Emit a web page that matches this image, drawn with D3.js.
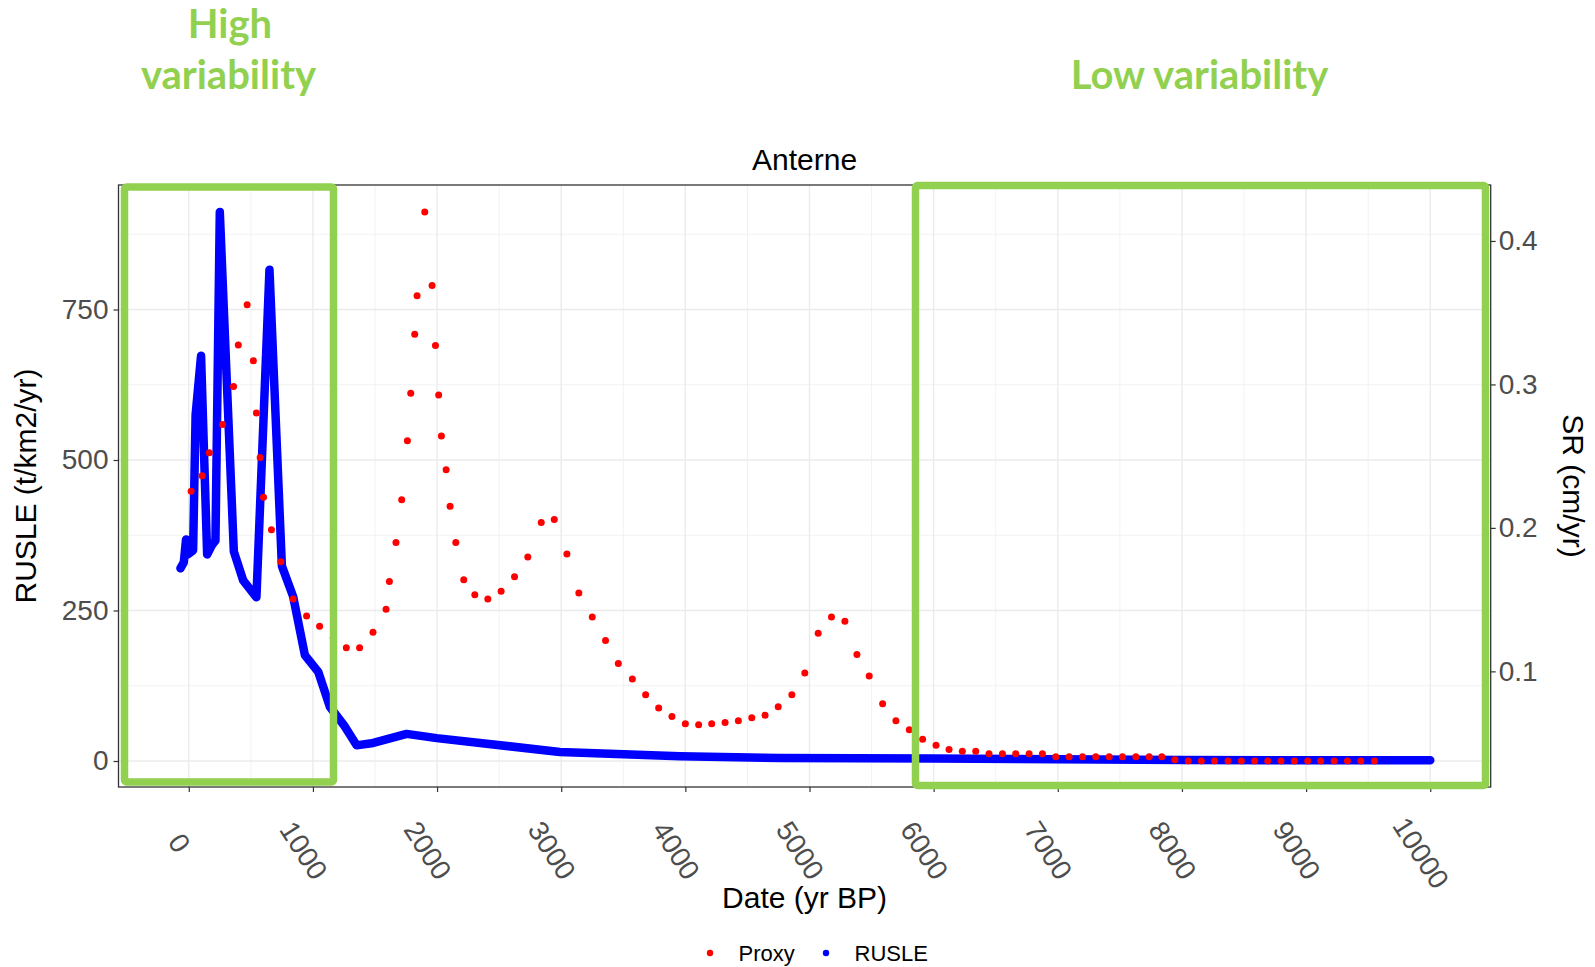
<!DOCTYPE html>
<html>
<head>
<meta charset="utf-8">
<script src="https://cdnjs.cloudflare.com/ajax/libs/d3/7.8.5/d3.min.js"></script>
<style>
  body { margin: 0; background: #fff; }
  text { font-family: "Liberation Sans", Arial, Helvetica, sans-serif; }
</style>
</head>
<body>
<div id="chart"></div>
<script>
// Data
var proxyYears = [19, 107, 165, 272, 361, 399, 470, 520, 545, 575, 602, 666, 742, 841, 949, 1054, 1164, 1269, 1376, 1484,
  1589, 1616, 1669, 1715, 1761, 1788, 1820, 1839, 1901, 1960, 1987, 2013, 2035, 2073, 2105, 2151, 2215, 2304, 2409, 2516,
  2624, 2731, 2839, 2944, 3046, 3142, 3250, 3357, 3460, 3573, 3680, 3785, 3892, 4000, 4107, 4212, 4320, 4427, 4535, 4642,
  4748, 4858, 4962, 5070, 5177, 5285, 5382, 5481, 5589, 5696, 5804, 5911, 6019, 6124, 6231, 6339, 6446, 6554, 6661, 6769,
  6876, 6984, 7091, 7199, 7306, 7414, 7521, 7629, 7736, 7838, 7943, 8051, 8156, 8263, 8371, 8478, 8586, 8691, 8798, 8906,
  9013, 9118, 9226, 9333, 9441, 9551];
// proxy is drawn on the RUSLE scale (rescaled SR)
var proxyValues = [448, 474, 512, 559, 622, 691, 758, 665, 578, 504, 438, 384, 331, 269, 241, 224, 204, 188, 188, 214,
  252, 298, 363, 434, 532, 611, 709, 773, 912, 790, 690, 608, 540, 484, 423, 363, 301, 276, 269, 282,
  306, 339, 396, 401, 344, 279, 239, 200, 162, 136, 110, 88, 74, 62, 60, 62, 64, 67, 72, 76,
  90, 110, 146, 212, 239, 232, 177, 141, 95, 67, 52, 36, 26, 19, 16, 16, 12, 12, 12, 12,
  12, 7, 7, 7, 7, 7, 7, 7, 7, 7, 2, 0, 0, 0, 0, 0, 0, 0, 0, 0,
  0, 0, 0, 0, 0, 0];

var rusleYears = [-67, -40, -22, -8, 35, 55, 99, 148, 188, 215, 250, 363, 438, 545, 650, 750, 841, 935, 1043, 1137,
  1258, 1352, 1486, 1755, 1997, 2989, 3957, 4763, 6000, 8000, 10000];
var rusleValues = [320, 330, 368, 343, 350, 575, 673, 343, 359, 366, 912, 348, 300, 272, 816, 324, 273, 176, 148, 90,
  57, 26, 30, 45, 38, 15, 8, 5, 4, 1.5, 1.2];

var xTicks = [0, 1000, 2000, 3000, 4000, 5000, 6000, 7000, 8000, 9000, 10000];
var yTicks = [0, 250, 500, 750];
var srTicks = [0.1, 0.2, 0.3, 0.4];

var seriesNames = ["Proxy", "RUSLE"];
var seriesColors = ["#ff0000", "#0000ff"];

// Chart dimensions
var width = 1595, height = 967;
var panel = {left: 118.5, right: 1490.7, top: 185, bottom: 787};
var green = "#92d050";

// Scales
var xScale = d3.scaleLinear().domain([-566, 10487]).range([panel.left, panel.right]),
    yScale = d3.scaleLinear().domain([-43.2, 956.8]).range([panel.bottom, panel.top]),
    srScale = d3.scaleLinear().domain([0.0194, 0.4390]).range([panel.bottom, panel.top]);

var svg = d3.select("#chart").append("svg")
  .attr("width", width)
  .attr("height", height);

svg.append("rect").attr("width", width).attr("height", height).attr("fill", "#fff");

// grid lines (major on ticks, minor half way)
var xMinor = xTicks.map(function(d) { return d - 500; }).concat([10500]);
var yMinor = yTicks.map(function(d) { return d + 125; });

var grid = svg.append("g").attr("class", "grid");
grid.selectAll(".xminor").data(xMinor.filter(function(d) { return xScale(d) > panel.left && xScale(d) < panel.right; }))
  .enter().append("line")
  .attr("x1", function(d) { return xScale(d); }).attr("x2", function(d) { return xScale(d); })
  .attr("y1", panel.top).attr("y2", panel.bottom)
  .attr("stroke", "#f0f0f0").attr("stroke-width", 0.9);
grid.selectAll(".yminor").data(yMinor)
  .enter().append("line")
  .attr("x1", panel.left).attr("x2", panel.right)
  .attr("y1", function(d) { return yScale(d); }).attr("y2", function(d) { return yScale(d); })
  .attr("stroke", "#f0f0f0").attr("stroke-width", 0.9);
grid.selectAll(".xmajor").data(xTicks)
  .enter().append("line")
  .attr("x1", function(d) { return xScale(d); }).attr("x2", function(d) { return xScale(d); })
  .attr("y1", panel.top).attr("y2", panel.bottom)
  .attr("stroke", "#ebebeb").attr("stroke-width", 1.4);
grid.selectAll(".ymajor").data(yTicks)
  .enter().append("line")
  .attr("x1", panel.left).attr("x2", panel.right)
  .attr("y1", function(d) { return yScale(d); }).attr("y2", function(d) { return yScale(d); })
  .attr("stroke", "#ebebeb").attr("stroke-width", 1.4);

// RUSLE as a thick line
var rusle = rusleYears.map(function(d, i) { return [d, rusleValues[i]]; });
var line = d3.line()
  .x(function(d) { return xScale(d[0]); })
  .y(function(d) { return yScale(d[1]); });

svg.append("path")
  .datum(rusle)
  .attr("d", line)
  .attr("fill", "none")
  .attr("stroke", seriesColors[1])
  .attr("stroke-width", 8.5)
  .attr("stroke-linejoin", "round")
  .attr("stroke-linecap", "round");

// Proxy points
var proxy = proxyYears.map(function(d, i) { return {year: d, value: proxyValues[i]}; });
svg.append("g").selectAll("circle")
  .data(proxy)
  .enter().append("circle")
  .attr("cx", function(d) { return xScale(d.year); })
  .attr("cy", function(d) { return yScale(d.value); })
  .attr("r", 3.5)
  .attr("fill", seriesColors[0]);

// panel border
svg.append("rect")
  .attr("x", panel.left).attr("y", panel.top)
  .attr("width", panel.right - panel.left).attr("height", panel.bottom - panel.top)
  .attr("fill", "none").attr("stroke", "#333").attr("stroke-width", 1.3);

// axes
var xAxis = d3.axisBottom(xScale).tickValues(xTicks).tickSize(5).tickFormat(d3.format("d")),
    yAxis = d3.axisLeft(yScale).tickValues(yTicks).tickSize(5).tickPadding(5),
    srAxis = d3.axisRight(srScale).tickValues(srTicks).tickSize(5).tickPadding(3).tickFormat(d3.format(".1f"));

function styleAxis(g) {
  g.select(".domain").remove();
  g.selectAll(".tick line").attr("stroke", "#333").attr("stroke-width", 1.2);
  g.selectAll(".tick text").attr("fill", "#4d4d4d").style("font-size", "28px")
    .style("font-family", "'Liberation Sans', Arial, sans-serif");
}

var gX = svg.append("g").attr("transform", "translate(0," + panel.bottom + ")").call(xAxis).call(styleAxis);
gX.selectAll(".tick text")
  .attr("y", null).attr("dy", null)
  .attr("text-anchor", "middle")
  .attr("dominant-baseline", "central")
  .attr("transform", function(d) {
    var n = String(d).length;
    return "translate(-10," + (56 + (n - 1) * 2.5) + ") rotate(57)";
  });

svg.append("g").attr("transform", "translate(" + panel.left + ",0)").call(yAxis).call(styleAxis);
svg.append("g").attr("transform", "translate(" + panel.right + ",0)").call(srAxis).call(styleAxis);

// titles
svg.append("text")
  .attr("x", (panel.left + panel.right) / 2).attr("y", 170)
  .attr("text-anchor", "middle").style("font-size", "30px").attr("fill", "#000")
  .text("Anterne");

svg.append("text")
  .attr("x", (panel.left + panel.right) / 2).attr("y", 908)
  .attr("text-anchor", "middle").style("font-size", "30px").attr("fill", "#000")
  .text("Date (yr BP)");

svg.append("text")
  .attr("transform", "translate(36," + (panel.top + panel.bottom) / 2 + ") rotate(-90)")
  .attr("text-anchor", "middle").style("font-size", "30px").attr("fill", "#000")
  .text("RUSLE (t/km2/yr)");

svg.append("text")
  .attr("transform", "translate(1563," + (panel.top + panel.bottom) / 2 + ") rotate(90)")
  .attr("text-anchor", "middle").style("font-size", "30px").attr("fill", "#000")
  .text("SR (cm/yr)");

// legend
var legend = svg.append("g").selectAll("g")
  .data(seriesNames)
  .enter().append("g")
  .attr("transform", function(d, i) { return "translate(" + [710, 826][i] + ",953)"; });
legend.append("circle").attr("r", 3.2).attr("fill", function(d, i) { return seriesColors[i]; });
legend.append("text")
  .attr("x", 28.5).attr("y", 8)
  .style("font-size", "22px").attr("fill", "#000")
  .text(function(d) { return d; });

// highlight boxes
var boxes = [
  {x0: 124.5, x1: 333.5, y0: 187, y1: 782},
  {x0: 915.5, x1: 1485.5, y0: 185.5, y1: 785.5}
];
svg.append("g").selectAll("rect")
  .data(boxes)
  .enter().append("rect")
  .attr("x", function(d) { return d.x0; })
  .attr("y", function(d) { return d.y0; })
  .attr("width", function(d) { return d.x1 - d.x0; })
  .attr("height", function(d) { return d.y1 - d.y0; })
  .attr("rx", 2)
  .attr("fill", "none")
  .attr("stroke", green)
  .attr("stroke-width", 7.5);

var notes = [
  {text: "High", x: 230, y: 38},
  {text: "variability", x: 228.5, y: 88.5},
  {text: "Low variability", x: 1199.5, y: 88.5}
];
svg.append("g").selectAll("text")
  .data(notes)
  .enter().append("text")
  .attr("x", function(d) { return d.x; })
  .attr("y", function(d) { return d.y; })
  .attr("text-anchor", "middle")
  .style("font-family", "Lato, 'Open Sans', sans-serif")
  .style("font-weight", "700")
  .style("font-size", "40px")
  .attr("fill", green)
  .text(function(d) { return d.text; });
</script>
</body>
</html>
